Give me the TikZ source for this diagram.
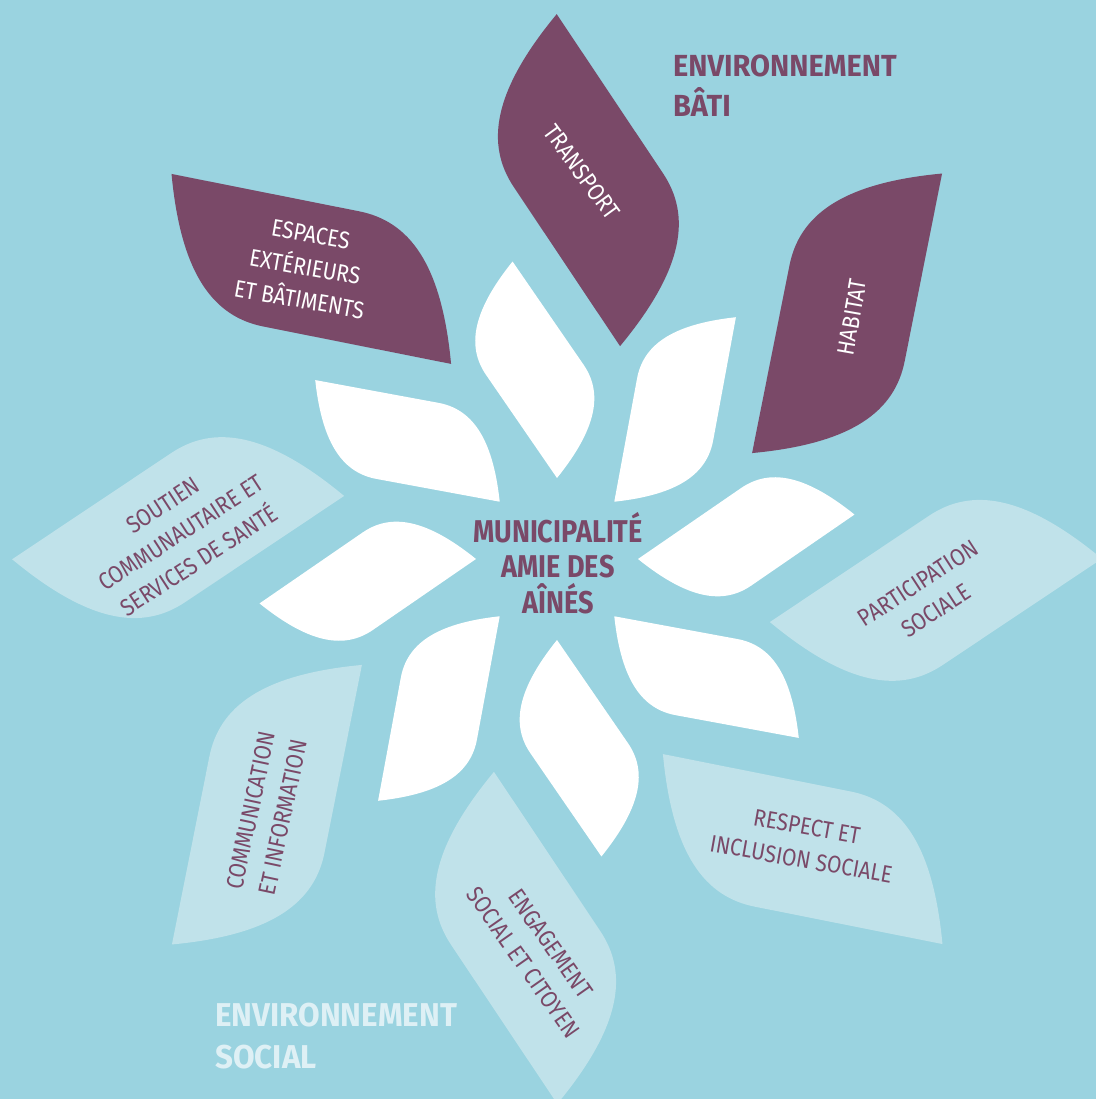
\documentclass[tikz,border=0pt]{standalone}
\usepackage{fontspec}
\setmainfont{Fira Sans}
\newfontfamily\labelfont{Fira Sans}[FakeStretch=0.87]
\newfontfamily\headfont{Fira Sans}[FakeStretch=0.86]
\newfontfamily\titlefont{Fira Sans}[FakeStretch=0.95]
\definecolor{skyback}{HTML}{9AD3E0}
\definecolor{plum}{HTML}{7A4968}
\definecolor{paleleaf}{HTML}{C0E2EA}
\definecolor{socialtext}{HTML}{DEF0F5}

\tikzset{
  leaf/.pic={\fill[pic actions] (0,0) -- (0.52,0.22) .. controls (0.66,0.28) and (0.81,0.23) .. (1,0) -- (0.48,-0.22) .. controls (0.34,-0.28) and (0.19,-0.23) .. (0,0) -- cycle;},
  innerleaf/.style={fill=white, rotate=#1+11.6, scale=221},
  outerleaf/.style={rotate=#1+10.8, scale=338},
  petaltext/.style={font=\labelfont\fontsize{24}{33}\selectfont, align=center, inner sep=0},
  whitetext/.style={petaltext, text=white},
  plumtext/.style={petaltext, text=plum},
  headtext/.style={font=\titlefont\bfseries\fontsize{30.5}{40}\selectfont, align=left, inner sep=0, anchor=north west}
}

\begin{document}
\begin{tikzpicture}[x=1pt, y=1pt]
        \fill[skyback] (-557,-540) rectangle (539,559);
        \clip (-557,-540) rectangle (539,559);

        \pic[outerleaf=90, fill=plum] at (73.5:222) {leaf};
        \pic[outerleaf=45, fill=plum] at (28.5:222) {leaf};
        \pic[outerleaf=0, fill=paleleaf] at (-16.5:222) {leaf};
        \pic[outerleaf=-45, fill=paleleaf] at (-61.5:222) {leaf};
        \pic[outerleaf=-90, fill=paleleaf] at (-106.5:222) {leaf};
        \pic[outerleaf=-135, fill=paleleaf] at (-151.5:222) {leaf};
        \pic[outerleaf=180, fill=paleleaf] at (163.5:222) {leaf};
        \pic[outerleaf=135, fill=plum] at (118.5:222) {leaf};

        \pic[innerleaf=90] at (90:81) {leaf};
        \pic[innerleaf=45] at (45:81) {leaf};
        \pic[innerleaf=0] at (0:81) {leaf};
        \pic[innerleaf=-45] at (-45:81) {leaf};
        \pic[innerleaf=-90] at (-90:81) {leaf};
        \pic[innerleaf=-135] at (-135:81) {leaf};
        \pic[innerleaf=180] at (180:81) {leaf};
        \pic[innerleaf=135] at (135:81) {leaf};

        \node[whitetext, rotate=-54] (transport) at (25, 387) {TRANSPORT};
        \node[whitetext, rotate=80] (habitat) at (295, 242) {HABITAT};
        \node[whitetext, rotate=-10] (espaces) at (-252, 292) {ESPACES\\EXTÉRIEURS\\ET BÂTIMENTS};
        \node[plumtext, rotate=33] (soutien) at (-376, 26) {SOUTIEN\\COMMUNAUTAIRE ET\\SERVICES DE SANTÉ};
        \node[plumtext, rotate=33] (participation) at (370, -38) {PARTICIPATION\\SOCIALE};
        \node[plumtext, rotate=-10] (respect) at (247, -284) {RESPECT ET\\INCLUSION SOCIALE};
        \node[plumtext, rotate=-55] (engagement) at (-20, -394) {ENGAGEMENT\\SOCIAL ET CITOYEN};
        \node[plumtext, rotate=78] (communication) at (-290, -255) {COMMUNICATION\\ET INFORMATION};

        \node[font=\headfont\bfseries\fontsize{31.5}{35.5}\selectfont, align=center, inner sep=0, text=plum] (ville) at (1, -4) {MUNICIPALITÉ\\AMIE DES\\AÎNÉS};
        \node[headtext, text=plum] (bati) at (116, 504) {ENVIRONNEMENT\\BÂTI};
        \node[headtext, text=socialtext, font=\titlefont\bfseries\fontsize{33}{42}\selectfont] (social) at (-342, -444) {ENVIRONNEMENT\\SOCIAL};

    \end{tikzpicture}
\end{document}
